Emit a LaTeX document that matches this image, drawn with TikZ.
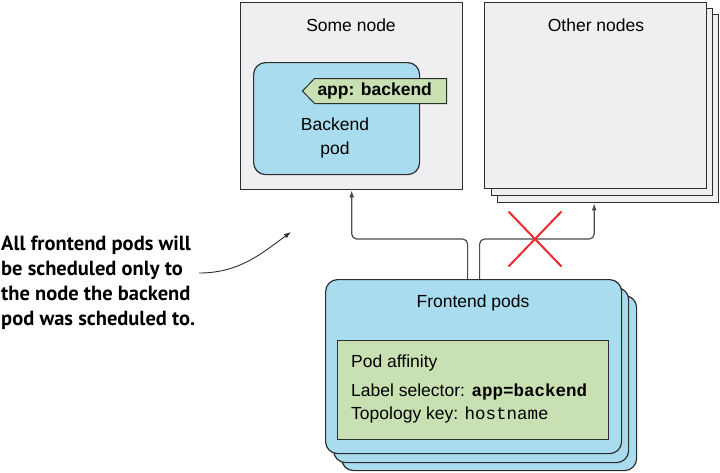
\documentclass[tikz,border=0pt]{standalone}
\usepackage{fontspec}
\setmainfont{Liberation Sans}
\setmonofont{Liberation Mono}
\newfontfamily\callfont{PT Sans}
\usetikzlibrary{shapes.misc,shapes.symbols,arrows.meta}
\definecolor{podblue}{HTML}{A8DCEE}
\definecolor{affgreen}{HTML}{C9E1B2}
\definecolor{hostgray}{HTML}{EFEFF1}
\definecolor{edge}{HTML}{2E2E2E}
\definecolor{connc}{HTML}{4A4A4A}
\definecolor{xred}{HTML}{EE2A2F}
\begin{document}
\begin{tikzpicture}[x=1pt,y=-1pt,
  every node/.style={font=\fontsize{17.5}{21}\selectfont},
  hostbox/.style={draw=edge, line width=1.4pt, fill=hostgray, inner sep=0, anchor=north west},
  podbox/.style={draw=edge, line width=1.2pt, fill=podblue, rounded corners=12pt, inner sep=0, anchor=north west},
  conn/.style={draw=connc, line width=1.2pt, rounded corners=5pt, -{Latex[length=7pt,width=5pt]}},
  callarrow/.style={draw=edge, line width=0.9pt, -{Latex[length=7pt,width=5pt]}},
  txt/.style={inner sep=0},
  affline/.style={inner sep=0, anchor=west}
]
\useasboundingbox (0,0) rectangle (720,472);

% Some node
\node[hostbox, minimum width=222pt, minimum height=187pt] (sn) at (240,2) {};
\node[txt] (snl) at (351,25) {Some node};

% Other nodes (stack)
\node[hostbox, minimum width=221pt, minimum height=188pt] (on3) at (497,14) {};
\node[hostbox, minimum width=221pt, minimum height=187pt] (on2) at (491,8) {};
\node[hostbox, minimum width=222pt, minimum height=186pt] (on1) at (484,2) {};
\node[txt] (onl) at (596,25) {Other nodes};

% Backend pod
\node[podbox, minimum width=166pt, minimum height=112pt] (bp) at (253,62) {};
\node[txt, align=center, font=\fontsize{17.5}{24}\selectfont] (bpl) at (335,138) {Backend\\pod};
\node[signal, signal to=west, signal pointer angle=92, draw=edge, line width=1pt,
      fill=affgreen, minimum height=25pt, inner xsep=3pt, inner ysep=2pt, anchor=east,
      font=\fontsize{17.5}{21}\selectfont\bfseries] (tag) at (447,91) {\makebox[126pt][l]{app: backend}};

% Frontend pods (stack)
\node[podbox, minimum width=295pt, minimum height=175pt] (fp3) at (341,295) {};
\node[podbox, minimum width=295pt, minimum height=175pt] (fp2) at (333,287) {};
\node[podbox, minimum width=296pt, minimum height=174pt] (fp) at (325,279) {};
\node[txt] (fpl) at (473,303) {Frontend pods};
\node[draw=edge, line width=1pt, fill=affgreen, minimum width=271pt, minimum height=99pt,
      inner sep=0, anchor=north west] (aff) at (337,340) {};
\node[affline] (a1) at (351,363) {Pod affinity};
\node[affline] (a2) at (351,392) {Label selector: \texttt{\bfseries app=backend}};
\node[affline] (a3) at (351,415) {Topology key: \texttt{hostname}};

% Connectors
\draw[conn] ([xshift=-6pt]fp.north) -- ++(0,-40) -| (sn.south);
\draw[conn] ([xshift=6pt]fp.north) -- ++(0,-40) -| ([xshift=-14pt]on3.south);

% Red cross
\node[cross out, draw=xred, line width=2pt, minimum width=51pt, minimum height=53pt, inner sep=0] (xm) at (535,239) {};

% Callout
\node[inner sep=0, anchor=north west, align=left,
      font=\callfont\bfseries\fontsize{20.5}{25}\selectfont] (call) at (1,236)
  {All frontend pods will\\be scheduled only to\\the node the backend\\pod was scheduled to.};
\coordinate (cs) at (199,273);
\coordinate (ct) at (291,232);
\draw[callarrow] (cs) .. controls +(40,0) and +(-30,22) .. (ct);
\end{tikzpicture}
\end{document}
